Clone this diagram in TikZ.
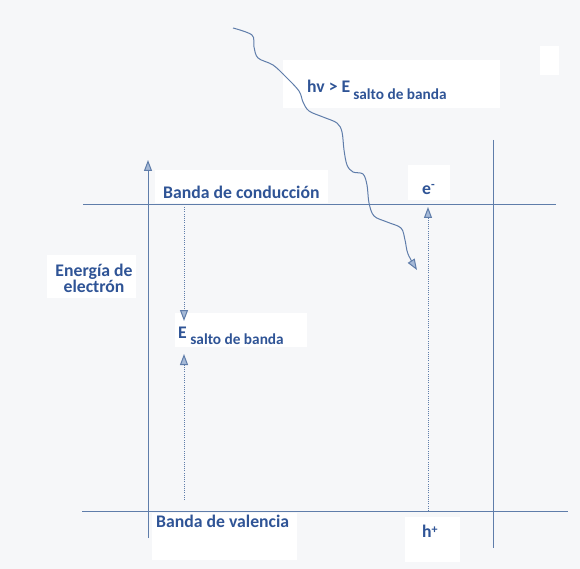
\documentclass[tikz,border=0pt]{standalone}
\usepackage{fontspec}
\setmainfont{Carlito}
\usetikzlibrary{arrows.meta}
\definecolor{txt}{RGB}{47,84,150}
\definecolor{ln}{RGB}{95,125,170}
\definecolor{arrfill}{RGB}{165,185,215}
\definecolor{paper}{RGB}{246,247,249}
\tikzset{
  lbl/.style={text=txt, font=\bfseries\fontsize{17.7}{17.7}\selectfont, inner sep=0pt, anchor=base west},
  band/.style={draw=ln, line width=1pt},
  dotline/.style={draw=ln, line width=1pt, dash pattern=on 1pt off 1.2pt},
  tip/.style={-{Triangle[length=11pt,width=8pt,fill=arrfill]}},
  wbox/.style={fill=white, draw=none}
}
\newcommand{\subtxt}[1]{\raisebox{-6.5pt}{\fontsize{15.3}{15.3}\selectfont #1}}
\begin{document}
\begin{tikzpicture}[x=1pt,y=-1pt]
\useasboundingbox (0,0) rectangle (580,569);
\fill[paper] (0,0) rectangle (580,569);
% white label boxes
\fill[wbox] (283,60) rectangle (500,108);
\fill[wbox] (155,170) rectangle (328,203);
\fill[wbox] (408,165) rectangle (450,200);
\fill[wbox] (47,255) rectangle (136,298);
\fill[wbox] (175,313) rectangle (307,347);
\fill[wbox] (152,513) rectangle (297,560);
\fill[wbox] (405,517) rectangle (460,562);
\fill[wbox] (540,46) rectangle (559,75);
% coordinates
\coordinate (cbL) at (83,205);
\coordinate (cbR) at (556,205);
\coordinate (vbL) at (82,511);
\coordinate (vbR) at (568,511);
\coordinate (axB) at (148,538);
\coordinate (axT) at (148,160);
\coordinate (rlT) at (493,140);
\coordinate (rlB) at (493,548);
\coordinate (g1) at (184,207);
\coordinate (g2) at (184,321);
\coordinate (g3) at (184,500);
\coordinate (g4) at (184,354);
\coordinate (eB) at (428,511);
\coordinate (eT) at (428,207);
\coordinate (wS) at (233,28);
\coordinate (wE) at (417,270);
% bands
\draw[band] (cbL) -- (cbR);
\draw[band] (vbL) -- (vbR);
\draw[band,tip] (axB) -- (axT);
\draw[band] (rlT) -- (rlB);
% gap arrows
\draw[dotline,tip] (g1) -- (g2);
\draw[dotline,tip] (g3) -- (g4);
\draw[dotline,tip] (eB) -- (eT);
% photon
\draw[draw=ln, line width=1pt, tip] plot[smooth, tension=0.55] coordinates {(wS) (252,35) (254,47) (258,58) (273,65) (286,77) (299,91) (303,102) (309,111) (323,117) (337,123) (342,132) (344,150) (347,165) (353,172) (363,174) (367,185) (369,203) (374,216) (387,222) (401,228) (405,240) (408,254) (wE)};
% labels
\node[lbl] (hv) at (307,93) {hv > E\hspace{3pt}\subtxt{salto de banda}};
\node[lbl] (cond) at (163,199) {Banda de conducción};
\node[lbl] (val) at (156,527) {Banda de valencia};
\node[lbl, anchor=base] (en1) at (94,276) {Energía de};
\node[lbl, anchor=base] (en2) at (94,292) {electrón};
\node[lbl] (eg) at (178,338) {E\hspace{3.5pt}\subtxt{salto de banda}};
\node[lbl] (el) at (422,195) {e\raisebox{6pt}{\fontsize{12}{12}\selectfont -}};
\node[lbl] (ho) at (422,537) {h\raisebox{4pt}{\fontsize{12}{12}\selectfont +}};
\end{tikzpicture}
\end{document}
